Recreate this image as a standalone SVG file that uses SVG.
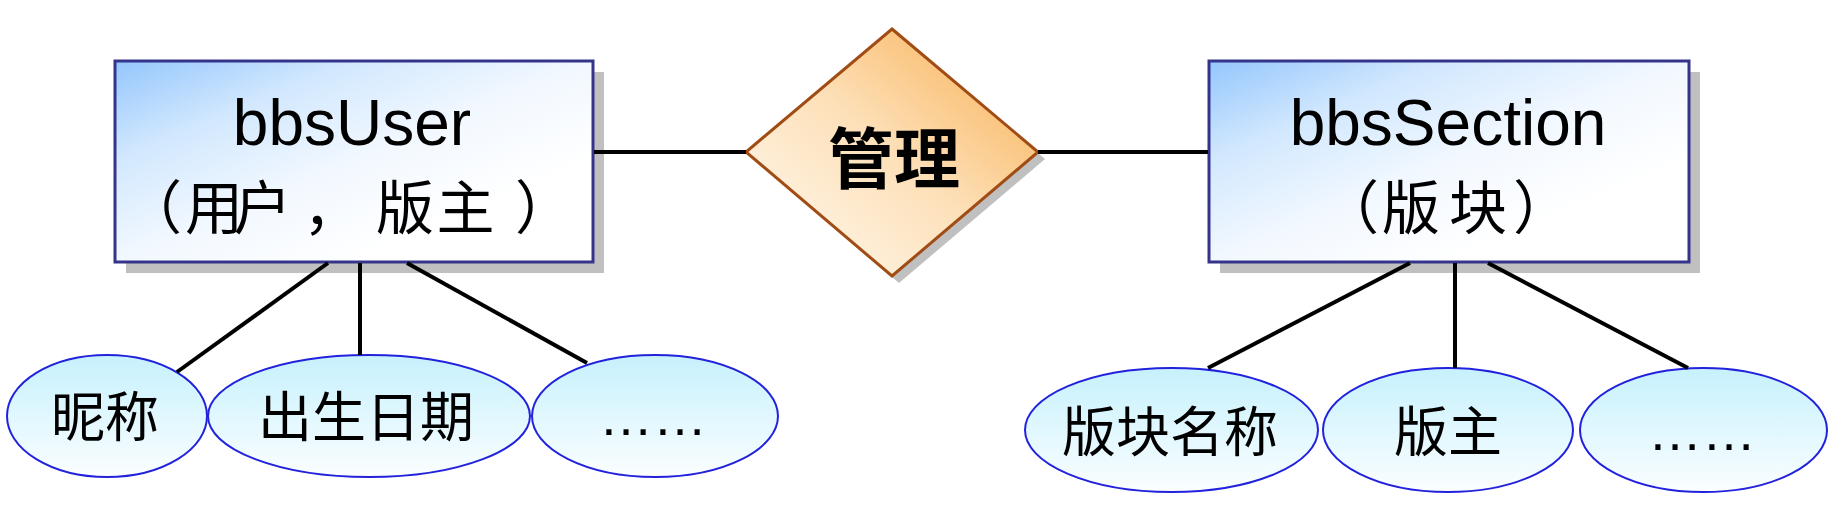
<svg xmlns="http://www.w3.org/2000/svg" width="1830" height="530" viewBox="0 0 1830 530">
<defs>
<linearGradient id="gBox" x1="0" y1="0" x2="1" y2="1">
<stop offset="0" stop-color="#94c6fc"/>
<stop offset="0.25" stop-color="#d2e8fe"/>
<stop offset="0.5" stop-color="#f2f8ff"/>
<stop offset="0.75" stop-color="#ffffff"/>
<stop offset="1" stop-color="#ffffff"/>
</linearGradient>
<linearGradient id="gDia" x1="0" y1="1" x2="1" y2="0">
<stop offset="0" stop-color="#fffbf5"/>
<stop offset="0.5" stop-color="#fde0b8"/>
<stop offset="1" stop-color="#f8ab4a"/>
</linearGradient>
<linearGradient id="gEll" x1="0" y1="0" x2="0" y2="1">
<stop offset="0" stop-color="#c6f1fd"/>
<stop offset="1" stop-color="#fbfeff"/>
</linearGradient>
</defs>
<style>
.shadow{fill:#c0c0c0;stroke:none}
.box{fill:url(#gBox);stroke:#34348a;stroke-width:3}
.dia{fill:url(#gDia);stroke:#a04c14;stroke-width:3;stroke-linejoin:miter}
.ell{fill:url(#gEll);stroke:#2222dd;stroke-width:2}
.conn line{stroke:#000;stroke-width:4}
.lat{font-family:"Liberation Sans",Arial,sans-serif;font-size:64px;fill:#000}
.cjk{font-family:"Noto Sans CJK SC",sans-serif;font-size:58px;fill:#000}
.att{font-family:"Noto Sans CJK SC",sans-serif;font-size:54px;fill:#000;text-anchor:middle}
.dots{font-family:"Liberation Sans",Arial,sans-serif;font-size:54px;fill:#000;text-anchor:middle}
.mid{text-anchor:middle}
</style>

<g id="bbsUser">
<rect class="shadow" x="126" y="72" width="478" height="201"/>
<rect class="box" x="115" y="61" width="478" height="201"/>
<text class="lat mid" x="352" y="145">bbsUser</text>
<text class="cjk mid" x="153 214 262.5 332 405 465.5 544" y="229">（用户，版主）</text>
</g>

<g id="manage">
<polygon class="shadow" points="899,36 1045,159 899,283 753,159"/>
<polygon class="dia" points="892,29 1038,152 892,276 746,152"/>
<text class="mid" x="894" y="183" style="font-family:'Noto Sans CJK SC',sans-serif;font-size:66px;font-weight:bold;fill:#000">管理</text>
</g>

<g id="bbsSection">
<rect class="shadow" x="1220" y="72" width="480" height="201"/>
<rect class="box" x="1209" y="61" width="480" height="201"/>
<text class="lat mid" x="1448" y="145">bbsSection</text>
<text class="cjk mid" x="1350 1411 1478 1542" y="229">（版块）</text>
</g>

<g id="attr-nickname">
<ellipse class="ell" cx="107" cy="416" rx="100" ry="61"/>
<text class="att" x="105" y="437">昵称</text>
</g>
<g id="attr-birthday">
<ellipse class="ell" cx="369" cy="416" rx="161" ry="61"/>
<text class="att" x="366" y="437">出生日期</text>
</g>
<g id="attr-user-more">
<ellipse class="ell" cx="655" cy="416" rx="123" ry="61"/>
<text class="dots" x="653" y="435">……</text>
</g>

<g id="attr-section-name">
<ellipse class="ell" cx="1171.5" cy="430" rx="146.5" ry="62"/>
<text class="att" x="1170" y="452">版块名称</text>
</g>
<g id="attr-moderator">
<ellipse class="ell" cx="1448" cy="430" rx="125" ry="62"/>
<text class="att" x="1448" y="452">版主</text>
</g>
<g id="attr-section-more">
<ellipse class="ell" cx="1703.5" cy="430" rx="123.5" ry="62"/>
<text class="dots" x="1702" y="450">……</text>
</g>

<g id="connectors" class="conn">
<line x1="594" y1="152" x2="746" y2="152"/>
<line x1="1038" y1="152" x2="1208" y2="152"/>
<line x1="328" y1="263" x2="177" y2="372"/>
<line x1="360" y1="263" x2="360" y2="355"/>
<line x1="407" y1="263" x2="587" y2="363"/>
<line x1="1410" y1="263" x2="1208" y2="368"/>
<line x1="1455" y1="263" x2="1455" y2="368"/>
<line x1="1488" y1="263" x2="1688" y2="368"/>
</g>
</svg>
